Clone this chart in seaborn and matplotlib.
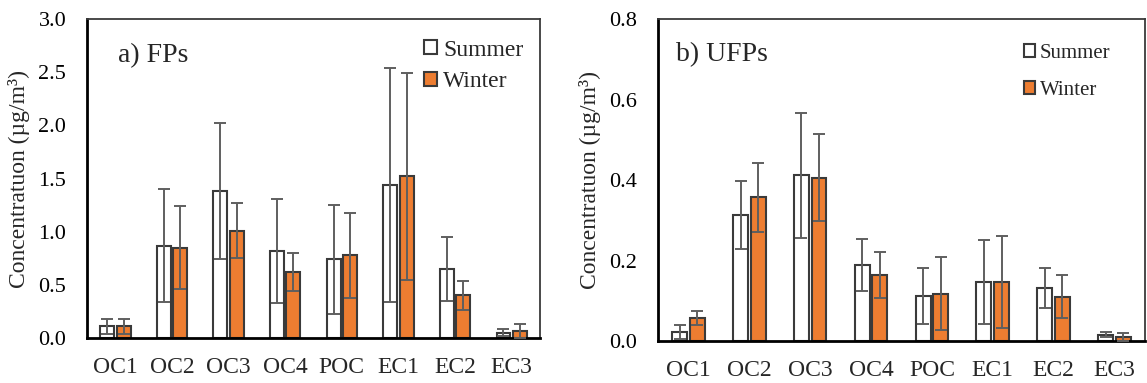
import matplotlib
matplotlib.use("Agg")
import matplotlib.pyplot as plt
import numpy as np
import pandas as pd
import seaborn as sns

# Carbon fractions measured in each size class
categories = ["OC1", "OC2", "OC3", "OC4", "POC", "EC1", "EC2", "EC3"]
seasons = ["Summer", "Winter"]

# Fine particles (FPs): mean and standard deviation, µg/m³
fp_summer = [0.11, 0.87, 1.38, 0.82, 0.74, 1.44, 0.65, 0.05]
fp_summer_sd = [0.07, 0.535, 0.64, 0.49, 0.51, 1.10, 0.30, 0.03]
fp_winter = [0.11, 0.85, 1.01, 0.62, 0.78, 1.52, 0.40, 0.063]
fp_winter_sd = [0.07, 0.39, 0.26, 0.18, 0.40, 0.97, 0.14, 0.065]

# Ultrafine particles (UFPs): mean and standard deviation, µg/m³
ufp_summer = [0.022, 0.313, 0.412, 0.189, 0.112, 0.147, 0.131, 0.016]
ufp_summer_sd = [0.018, 0.084, 0.155, 0.064, 0.070, 0.105, 0.050, 0.007]
ufp_winter = [0.057, 0.357, 0.406, 0.164, 0.118, 0.147, 0.110, 0.010]
ufp_winter_sd = [0.018, 0.085, 0.108, 0.057, 0.090, 0.115, 0.053, 0.010]

fp_yticks = [0.0, 0.5, 1.0, 1.5, 2.0, 2.5, 3.0]
ufp_yticks = [0.0, 0.2, 0.4, 0.6, 0.8]

palette = {"Summer": "#FFFFFF", "Winter": "#ED7D31"}
edge = "#3A3A3A"
err_color = "#5F5F5F"

sns.set_style("white")
plt.rcParams["font.family"] = ["Liberation Serif", "DejaVu Serif"]
plt.rcParams["mathtext.fontset"] = "stix"

fig = plt.figure(figsize=(11.47, 3.83), dpi=100)
ax_a = fig.add_axes([0.0759, 0.1175, 0.3949, 0.8325])
ax_b = fig.add_axes([0.5737, 0.1097, 0.4245, 0.8403])


def make_frame(summer, winter):
    return pd.DataFrame({
        "category": categories * 2,
        "season": ["Summer"] * len(categories) + ["Winter"] * len(categories),
        "value": list(summer) + list(winter),
    })


def draw_panel(ax, summer, summer_sd, winter, winter_sd, yticks, title,
               title_xy, legend_xy, legend_size, legend_spacing, handle_pad):
    df = make_frame(summer, winter)
    sns.barplot(data=df, x="category", y="value", hue="season",
                order=categories, hue_order=seasons, palette=palette,
                saturation=1, width=0.58, gap=0.155, errorbar=None,
                edgecolor=edge, linewidth=1.5, legend=False, ax=ax)

    # standard deviation whiskers centred on each bar
    for container, sd in zip(ax.containers, [summer_sd, winter_sd]):
        bars = sorted(container.patches, key=lambda p: p.get_x())
        xs = [b.get_x() + b.get_width() / 2 for b in bars]
        ys = [b.get_height() for b in bars]
        ax.errorbar(xs, ys, yerr=sd, fmt="none", ecolor=err_color,
                    elinewidth=1.4, capsize=4.3, capthick=1.4, zorder=4)

    ax.set_xlim(-0.5, len(categories) - 0.5)
    ax.set_ylim(yticks[0], yticks[-1])
    ax.set_yticks(yticks)
    ax.set_yticklabels([f"{t:.1f}" for t in yticks])
    ax.set_xlabel("")
    ax.set_ylabel("Concentratuon (µg/m³)", fontsize=17, labelpad=6)

    ax.tick_params(axis="y", direction="in", length=6, width=1.4,
                   labelsize=16, pad=15, colors="black")
    ax.tick_params(axis="x", length=0, labelsize=17, pad=14)

    for side in ["left", "bottom"]:
        ax.spines[side].set_visible(True)
        ax.spines[side].set_color("black")
        ax.spines[side].set_linewidth(2.0)
    for side in ["top", "right"]:
        ax.spines[side].set_visible(True)
        ax.spines[side].set_color(edge)
        ax.spines[side].set_linewidth(1.3)

    ax.text(title_xy[0], title_xy[1], title, transform=ax.transAxes,
            fontsize=20, va="baseline", ha="left")

    handles = [ax.containers[0].patches[0], ax.containers[1].patches[0]]
    ax.legend(handles, seasons, loc="upper left", bbox_to_anchor=legend_xy,
              frameon=False, fontsize=legend_size, borderpad=0,
              borderaxespad=0, handlelength=0.55, handleheight=0.55,
              handletextpad=handle_pad, labelspacing=legend_spacing)


draw_panel(ax_a, fp_summer, fp_summer_sd, fp_winter, fp_winter_sd,
           fp_yticks, "a) FPs", (0.068, 0.865), (0.744, 0.936), 17, 0.45, 0.25)
draw_panel(ax_b, ufp_summer, ufp_summer_sd, ufp_winter, ufp_winter_sd,
           ufp_yticks, "b) UFPs", (0.037, 0.870), (0.7515, 0.923), 15, 0.85, 0.2)

fig.savefig("out.png", dpi=100)
